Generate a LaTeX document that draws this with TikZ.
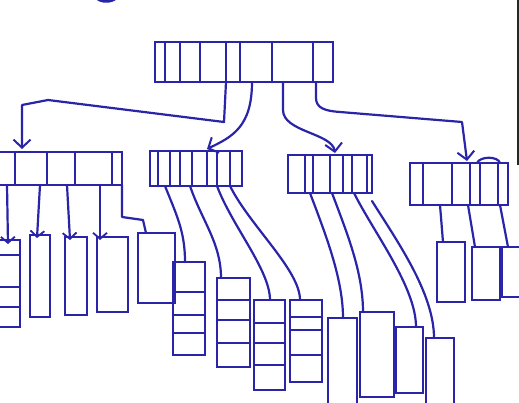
\documentclass[tikz,border=0pt]{standalone}
\usetikzlibrary{arrows.meta}
\definecolor{ink}{RGB}{42,36,168}
\begin{document}
\begin{tikzpicture}[x=1pt,y=-1pt,
  box/.style={draw=ink, line width=2.2pt, anchor=north west, inner sep=0pt, outer sep=0pt},
  wire/.style={draw=ink, line width=2.2pt, line cap=round, line join=round},
  ptr/.style={wire, -{Straight Barb[length=8pt,width=17pt,line width=2pt]}},
  sptr/.style={wire, -{Straight Barb[length=6pt,width=14pt,line width=1.8pt]}}]
\clip (0,0) rectangle (519,403);
\fill[white] (0,0) rectangle (519,403);
% scan artefacts
\fill[ink] (96,-1) .. controls (100,4) and (112,4) .. (117,-1) -- cycle;
\draw[black!85, line width=1.2pt] (518,0) -- (518,165);

% ---------- root ----------
\node[box, minimum width=178pt, minimum height=40pt] (R) at (155,42) {};
\foreach \d in {10,25,45,71,85,117,158}
  \draw[wire] ([xshift=\d pt]R.north west) -- ([xshift=\d pt]R.south west);

% ---------- level 2 ----------
\node[box, minimum width=124pt, minimum height=33pt] (A) at (-2,152) {};
\foreach \d in {17,49,77,114}
  \draw[wire] ([xshift=\d pt]A.north west) -- ([xshift=\d pt]A.south west);

\node[box, minimum width=92pt, minimum height=35pt] (B) at (150,151) {};
\foreach \d in {8,20,30,42,57,67,80}
  \draw[wire] ([xshift=\d pt]B.north west) -- ([xshift=\d pt]B.south west);

\node[box, minimum width=84pt, minimum height=38pt] (C) at (288,155) {};
\foreach \d in {17,25,42,55,64,79}
  \draw[wire] ([xshift=\d pt]C.north west) -- ([xshift=\d pt]C.south west);

\node[box, minimum width=98pt, minimum height=42pt] (D) at (410,163) {};
\foreach \d in {13,42,60,70,88}
  \draw[wire] ([xshift=\d pt]D.north west) -- ([xshift=\d pt]D.south west);
\draw[wire] ([xshift=67pt]D.north west) .. controls ([xshift=70pt,yshift=7pt]D.north west) and ([xshift=88pt,yshift=7pt]D.north west) .. ([xshift=90pt]D.north west);

% ---------- leaves ----------
\node[box, minimum width=23pt, minimum height=87pt] (L1) at (-3,240) {};
\foreach \r in {15,47,67}
  \draw[wire] ([yshift=-\r pt]L1.north west) -- ([yshift=-\r pt]L1.north east);
\node[box, minimum width=20pt, minimum height=82pt] (L2) at (30,235) {};
\node[box, minimum width=22pt, minimum height=78pt] (L3) at (65,237) {};
\node[box, minimum width=31pt, minimum height=75pt] (L4) at (97,237) {};
\node[box, minimum width=37pt, minimum height=70pt] (L5) at (138,233) {};

\node[box, minimum width=32pt, minimum height=93pt] (L6) at (173,262) {};
\foreach \r in {30,53,71}
  \draw[wire] ([yshift=-\r pt]L6.north west) -- ([yshift=-\r pt]L6.north east);
\node[box, minimum width=33pt, minimum height=89pt] (L7) at (217,278) {};
\foreach \r in {22,42,65}
  \draw[wire] ([yshift=-\r pt]L7.north west) -- ([yshift=-\r pt]L7.north east);
\node[box, minimum width=31pt, minimum height=90pt] (L8) at (254,300) {};
\foreach \r in {23,43,65}
  \draw[wire] ([yshift=-\r pt]L8.north west) -- ([yshift=-\r pt]L8.north east);
\node[box, minimum width=32pt, minimum height=82pt] (L9) at (290,300) {};
\foreach \r in {17,30,55}
  \draw[wire] ([yshift=-\r pt]L9.north west) -- ([yshift=-\r pt]L9.north east);

\node[box, minimum width=29pt, minimum height=90pt] (L10) at (328,318) {};
\node[box, minimum width=34pt, minimum height=85pt] (L11) at (360,312) {};
\node[box, minimum width=27pt, minimum height=66pt] (L12) at (396,327) {};
\node[box, minimum width=28pt, minimum height=70pt] (L13) at (426,338) {};

\node[box, minimum width=28pt, minimum height=60pt] (L14) at (437,242) {};
\node[box, minimum width=28pt, minimum height=53pt] (L15) at (472,247) {};
\node[box, minimum width=22pt, minimum height=50pt] (L16) at (502,247) {};

% ---------- root pointers ----------
\draw[ptr] ([xshift=71pt]R.south west) -- ++(-2,40) -- (48,100) -- (22,105) -- ([xshift=24pt,yshift=3pt]A.north west);
\draw[ptr] ([xshift=97pt]R.south west) .. controls ++(0,45) and ++(25,-12) .. ([xshift=57pt,yshift=2pt]B.north west);
\draw[ptr] ([xshift=128pt]R.south west) -- ++(0,28) .. controls ++(0,22) and ++(-3,-20) .. ([xshift=47pt,yshift=2pt]C.north west);
\draw[ptr] ([xshift=161pt]R.south west) -- ++(0,16) .. controls ++(0,10) and ++(-15,-1) .. (340,112) -- (462,122) -- ([xshift=57pt,yshift=2pt]D.north west);

% ---------- A pointers ----------
\draw[sptr] ([xshift=9pt]A.south west) -- ([xshift=11pt,yshift=-4pt]L1.north west);
\draw[sptr] ([xshift=42pt]A.south west) -- ([xshift=7pt,yshift=-3pt]L2.north west);
\draw[sptr] ([xshift=69pt]A.south west) -- ([xshift=5pt,yshift=-3pt]L3.north west);
\draw[sptr] ([xshift=102pt]A.south west) -- ([xshift=3pt,yshift=-3pt]L4.north west);
\draw[wire] (A.south east) -- ++(0,32) -- ++(21,3) -- ([xshift=8pt]L5.north west);

% ---------- B pointers ----------
\draw[wire] ([xshift=15pt]B.south west) .. controls ++(12,30) and ++(0,-30) .. ([xshift=12pt]L6.north west);
\draw[wire] ([xshift=40pt]B.south west) .. controls ++(12,35) and ++(0,-35) .. ([xshift=4pt]L7.north west);
\draw[wire] ([xshift=67pt]B.south west) .. controls ++(15,40) and ++(0,-30) .. ([xshift=16pt]L8.north west);
\draw[wire] ([xshift=80pt]B.south west) .. controls ++(20,40) and ++(0,-30) .. ([xshift=10pt]L9.north west);

% ---------- C pointers ----------
\draw[wire] ([xshift=22pt]C.south west) .. controls ++(15,40) and ++(0,-40) .. ([xshift=15pt]L10.north west);
\draw[wire] ([xshift=44pt]C.south west) .. controls ++(15,40) and ++(0,-40) .. ([xshift=3pt]L11.north west);
\draw[wire] ([xshift=66pt]C.south west) .. controls ++(20,40) and ++(0,-40) .. ([xshift=20pt]L12.north west);
\draw[wire] ([xshift=84pt,yshift=-8pt]C.south west) .. controls ++(25,40) and ++(0,-45) .. ([xshift=8pt]L13.north west);

% ---------- D pointers ----------
\draw[wire] ([xshift=30pt]D.south west) -- ([xshift=6pt]L14.north west);
\draw[wire] ([xshift=58pt]D.south west) -- ([xshift=3pt]L15.north west);
\draw[wire] ([xshift=90pt]D.south west) -- ([xshift=6pt]L16.north west);
\end{tikzpicture}
\end{document}
